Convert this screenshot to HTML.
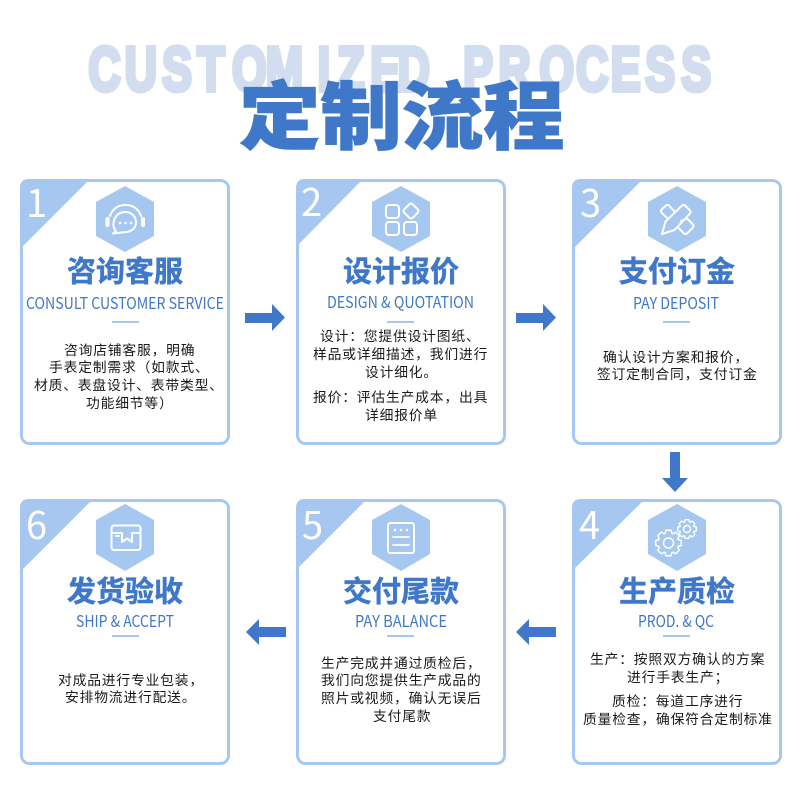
<!DOCTYPE html>
<html lang="zh">
<head>
<meta charset="utf-8">
<title>定制流程</title>
<style>
html,body{margin:0;padding:0;background:#fff;width:800px;height:800px;overflow:hidden}
svg{display:block}
text{font-family:"Liberation Sans","Noto Sans CJK SC",sans-serif}
.num{font-family:"Noto Sans CJK SC","Liberation Sans",sans-serif;font-size:38px;fill:#fff}
.t{font-family:"Noto Sans CJK SC","Liberation Sans",sans-serif;font-size:29px;font-weight:700;fill:#3f78c8;stroke:#3f78c8;stroke-width:.5}
.s{font-family:"Noto Sans CJK SC","Liberation Sans",sans-serif;font-size:16px;fill:#3f78c8}
.b{font-family:"Noto Sans CJK SC","Liberation Sans",sans-serif;font-size:13.8px;letter-spacing:.8px;fill:#1a1a1a}
.card{fill:#fff;stroke:#a6c8f0;stroke-width:3}
.tri,.hex{fill:#a6c8f0}
.rule{fill:#a6c8f0}
.arr{fill:#3f78c8}
.i{fill:none;stroke:#fff;stroke-width:2;stroke-linejoin:round;stroke-linecap:round}
.w{fill:#fff}
</style>
</head>
<body>
<svg width="800" height="800" viewBox="0 0 800 800" xmlns="http://www.w3.org/2000/svg">
<rect width="800" height="800" fill="#fff"/>

<!-- Heading -->
<g transform="translate(88 90.500) scale(.72 1)">
<text x="0.5 51 103 152 200 247 319 346 392 430 479 521 570 627 678 726 774 824" y="0" font-size="62" font-weight="700" fill="#d2deef" stroke="#d2deef" stroke-width="5" xml:space="preserve">CUSTOMIZED PROCESS</text>
</g>
<g transform="translate(239 143) scale(1.1 1)">
<text x="0" y="0" font-size="74" font-weight="900" style="font-family:'Noto Sans CJK SC',sans-serif" fill="#3f78c8" stroke="#3f78c8" stroke-width="1">定制流程</text>
</g>

<!-- Cards -->
<rect class="card" x="21.500" y="180.500" width="207" height="263" rx="8"/>
<rect class="card" x="297.500" y="180.500" width="207" height="263" rx="8"/>
<rect class="card" x="573.500" y="180.500" width="207" height="263" rx="8"/>
<rect class="card" x="21.500" y="500.500" width="207" height="263" rx="8"/>
<rect class="card" x="297.500" y="500.500" width="207" height="263" rx="8"/>
<rect class="card" x="573.500" y="500.500" width="207" height="263" rx="8"/>

<!-- Corner triangles -->
<path class="tri" d="M20 188Q20 179 29 179L90 179L20 249Z"/>
<path class="tri" d="M296 188Q296 179 305 179L363 179L296 247Z"/>
<path class="tri" d="M572 188Q572 179 581 179L643 179L572 250Z"/>
<path class="tri" d="M20 508Q20 499 29 499L93 499L20 572Z"/>
<path class="tri" d="M296 508Q296 499 305 499L367 499L296 570Z"/>
<path class="tri" d="M572 508Q572 499 581 499L645 499L572 571Z"/>

<text class="num" x="26" y="217">1</text>
<text class="num" x="301" y="216">2</text>
<text class="num" x="580" y="217">3</text>
<text class="num" x="579" y="539">4</text>
<text class="num" x="302" y="539">5</text>
<text class="num" x="26" y="539">6</text>

<!-- Hexagons -->
<polygon class="hex" points="125,186 154,202 154,236 125,252 96,236 96,202"/>
<polygon class="hex" points="401,186 430,202 430,236 401,252 372,236 372,202"/>
<polygon class="hex" points="677,186 706,202 706,236 677,252 648,236 648,202"/>
<polygon class="hex" points="677,504 706,520 706,554 677,571 648,554 648,520"/>
<polygon class="hex" points="401,504 430,520 430,554 401,571 372,554 372,520"/>
<polygon class="hex" points="125,504 154,520 154,554 125,571 96,554 96,520"/>

<!-- Icon 1: headset and bubble -->
<g class="i" stroke-width="1.700">
<path d="M116 231C112.500 227 113 222 115 218C117 214 121 212 125.500 212C132 212 136 217 136 222.500C136 228 131 232 125.500 232L113 233.500Z"/>
</g>
<g class="i" stroke-width="1.800">
<path d="M110 216C113 208 119 205 125.500 205C132 205 138 208 141 216"/>
</g>
<rect class="w" x="105.500" y="217" width="4" height="10" rx="2"/>
<rect class="w" x="141" y="217" width="4" height="10" rx="2"/>
<circle class="w" cx="120" cy="223" r="1.300"/><circle class="w" cx="125.500" cy="223" r="1.300"/><circle class="w" cx="131" cy="223" r="1.300"/>

<!-- Icon 2: grid -->
<g class="i">
<rect x="386" y="205" width="13" height="13" rx="3"/>
<rect x="386" y="222" width="13" height="13" rx="3"/>
<rect x="404" y="222" width="13" height="13" rx="3"/>
<rect x="405" y="205" width="12" height="12" rx="2.500" transform="rotate(45 411 211)"/>
</g>

<!-- Icon 3: pencil and ruler -->
<g class="i">
<path d="M662 234L665.500 221.500L682 205.500Q683.500 204.500 685 205.500L690 210.500Q691 212 690 213.500L674.500 230Z"/>
<path d="M667 218L661.500 212.500Q660.500 211 661.500 209.500L666 205.500Q667.500 204.500 669 205.500L674 211"/>
<path d="M681 221L687 218.500L693 224.500Q694 226 693 227.500L687 233.500Q685.500 234.500 684 233.500L678 227.500"/>
</g>

<!-- Icon 4: gears -->
<polygon fill="none" stroke="#fff" stroke-width="1.500" stroke-linejoin="round" transform="translate(668.500 543) scale(13)" vector-effect="non-scaling-stroke" points=".982,.191 .733,.267 .707,.330 .829,.559 .559,.829 .330,.707 .267,.733 .191,.982 -.191,.982 -.267,.733 -.330,.707 -.559,.829 -.829,.559 -.707,.330 -.733,.267 -.982,.191 -.982,-.191 -.733,-.267 -.707,-.330 -.829,-.559 -.559,-.829 -.330,-.707 -.267,-.733 -.191,-.982 .191,-.982 .267,-.733 .330,-.707 .559,-.829 .829,-.559 .707,-.330 .733,-.267 .982,-.191"/>
<circle cx="668.500" cy="543" r="5" fill="none" stroke="#fff" stroke-width="1.500"/>
<polygon fill="none" stroke="#fff" stroke-width="1.400" stroke-linejoin="round" transform="translate(687 529) scale(9.500)" vector-effect="non-scaling-stroke" points=".982,.191 .733,.267 .707,.330 .829,.559 .559,.829 .330,.707 .267,.733 .191,.982 -.191,.982 -.267,.733 -.330,.707 -.559,.829 -.829,.559 -.707,.330 -.733,.267 -.982,.191 -.982,-.191 -.733,-.267 -.707,-.330 -.829,-.559 -.559,-.829 -.330,-.707 -.267,-.733 -.191,-.982 .191,-.982 .267,-.733 .330,-.707 .559,-.829 .829,-.559 .707,-.330 .733,-.267 .982,-.191"/>
<circle cx="687" cy="529" r="3.500" fill="none" stroke="#fff" stroke-width="1.400"/>

<!-- Icon 5: panel -->
<g class="i">
<rect x="388" y="523" width="26" height="30" rx="2.500"/>
<path d="M393 537H409M393 545H409" stroke-width="1.800"/>
</g>
<circle class="w" cx="395" cy="530" r="1.300"/><circle class="w" cx="401" cy="530" r="1.300"/><circle class="w" cx="407" cy="530" r="1.300"/>

<!-- Icon 6: box -->
<g class="i" stroke-width="1.800">
<rect x="111.500" y="525.500" width="29" height="24.500" rx="2.500"/>
<path d="M112 533H122M132 533H140"/>
<path d="M122 533V542L127 538.500L132 542V533"/>
<path d="M116 536H119"/>
</g>

<!-- Titles -->
<text class="t" x="67" y="281.500" textLength="116" lengthAdjust="spacing">咨询客服</text>
<text class="t" x="343" y="281.500" textLength="116" lengthAdjust="spacing">设计报价</text>
<text class="t" x="619" y="281.500" textLength="116" lengthAdjust="spacing">支付订金</text>
<text class="t" x="619" y="601.500" textLength="116" lengthAdjust="spacing">生产质检</text>
<text class="t" x="343" y="601.500" textLength="116" lengthAdjust="spacing">交付尾款</text>
<text class="t" x="67" y="601.500" textLength="116" lengthAdjust="spacing">发货验收</text>

<!-- Subtitles -->
<text class="s" x="26" y="309" textLength="198" lengthAdjust="spacingAndGlyphs">CONSULT CUSTOMER SERVICE</text>
<text class="s" x="327" y="308" textLength="147" lengthAdjust="spacingAndGlyphs">DESIGN &amp; QUOTATION</text>
<text class="s" x="633" y="309" textLength="86" lengthAdjust="spacingAndGlyphs">PAY DEPOSIT</text>
<text class="s" x="638" y="627" textLength="76" lengthAdjust="spacingAndGlyphs">PROD. &amp; QC</text>
<text class="s" x="355" y="627" textLength="92" lengthAdjust="spacingAndGlyphs">PAY BALANCE</text>
<text class="s" x="76" y="627" textLength="98" lengthAdjust="spacingAndGlyphs">SHIP &amp; ACCEPT</text>

<!-- Rules -->
<rect class="rule" x="112" y="321" width="27" height="2"/>
<rect class="rule" x="387" y="321" width="27" height="2"/>
<rect class="rule" x="663" y="321" width="27" height="2"/>
<rect class="rule" x="663" y="635" width="27" height="2"/>
<rect class="rule" x="387" y="635" width="27" height="2"/>
<rect class="rule" x="112" y="635" width="27" height="2"/>

<!-- Body 1 -->
<text class="b" x="64" y="355">咨询店铺客服，明确</text>
<text class="b" x="49" y="372">手表定制需求（如款式、</text>
<text class="b" x="34" y="390">材质、表盘设计、表带类型、</text>
<text class="b" x="86" y="408">功能细节等）</text>
<!-- Body 2 -->
<text class="b" x="320" y="341">设计：您提供设计图纸、</text>
<text class="b" x="313" y="359">样品或详细描述，我们进行</text>
<text class="b" x="365" y="377">设计细化。</text>
<text class="b" x="313" y="402">报价：评估生产成本，出具</text>
<text class="b" x="365" y="420">详细报价单</text>
<!-- Body 3 -->
<text class="b" x="603" y="362">确认设计方案和报价，</text>
<text class="b" x="597" y="379">签订定制合同，支付订金</text>
<!-- Body 4 -->
<text class="b" x="590" y="664">生产：按照双方确认的方案</text>
<text class="b" x="627" y="682">进行手表生产；</text>
<text class="b" x="612" y="706">质检：每道工序进行</text>
<text class="b" x="583" y="724">质量检查，确保符合定制标准</text>
<!-- Body 5 -->
<text class="b" x="321" y="668">生产完成并通过质检后，</text>
<text class="b" x="321" y="685">我们向您提供生产成品的</text>
<text class="b" x="321" y="703">照片或视频，确认无误后</text>
<text class="b" x="373" y="721">支付尾款</text>
<!-- Body 6 -->
<text class="b" x="58" y="685">对成品进行专业包装，</text>
<text class="b" x="65" y="702">安排物流进行配送。</text>

<!-- Arrows -->
<polygon class="arr" points="245,313 272,313 272,304 285,317.500 272,331 272,323 245,323"/>
<polygon class="arr" points="516,313 543,313 543,304 556,317.500 543,331 543,323 516,323"/>
<polygon class="arr" points="670,452 680,452 680,478 688,478 675,492 662,478 670,478"/>
<polygon class="arr" points="556,627 529,627 529,619 516,632 529,645 529,637 556,637"/>
<polygon class="arr" points="286,627 259,627 259,619 246,632 259,645 259,637 286,637"/>
</svg>
</body>
</html>
